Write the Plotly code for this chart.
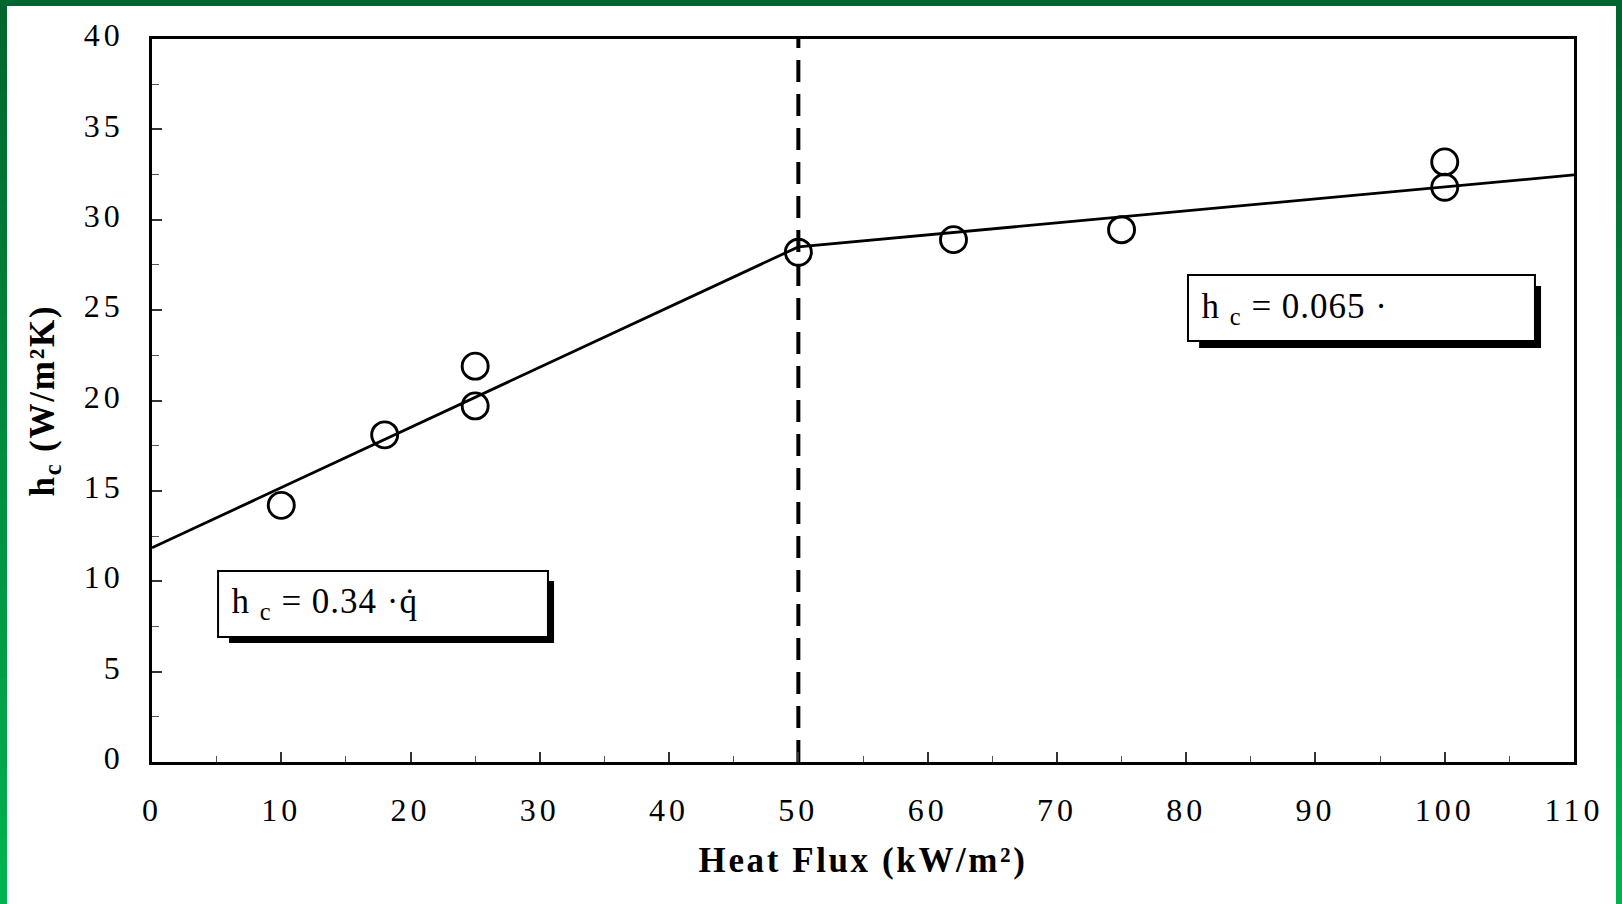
import plotly.graph_objects as go

# ---- data ----
heat_flux = [10, 18, 25, 25, 50, 62, 75, 100, 100]
hc_measured = [14.2, 18.1, 21.9, 19.7, 28.2, 28.9, 29.45, 33.2, 31.8]

fit_x = [0, 50, 110]
fit_y = [11.85, 28.5, 32.48]

transition_x = [50, 50]
transition_y = [0, 40]

x_ticks = [0, 10, 20, 30, 40, 50, 60, 70, 80, 90, 100, 110]
y_ticks = [0, 5, 10, 15, 20, 25, 30, 35, 40]

eq_low = "h <sub>c</sub> = 0.34 \u00b7q\u0307"
eq_high = "h <sub>c</sub> = 0.065 \u00b7"

FONT = "Liberation Serif"

# plot-area pixel geometry (for border shapes)
W, H = 1622, 904
L, R, T, B = 152, 1574, 39, 762


def pxx(p):
    return (p - L) / (R - L)


def pxy(p):
    return (B - p) / (B - T)


fig = go.Figure()

fig.add_trace(go.Scatter(
    x=fit_x, y=fit_y, mode="lines",
    line=dict(color="black", width=2.8),
    showlegend=False, hoverinfo="skip"))

fig.add_trace(go.Scatter(
    x=transition_x, y=transition_y, mode="lines",
    line=dict(color="black", width=4, dash="22px,12px"),
    showlegend=False, hoverinfo="skip"))

fig.add_trace(go.Scatter(
    x=heat_flux, y=hc_measured, mode="markers",
    marker=dict(symbol="circle-open", size=26, color="black",
                line=dict(width=2.9, color="black")),
    showlegend=False))

shapes = []
# equation boxes with drop shadows
for (sx0, sx1, sy0, sy1), (bx0, bx1, by0, by1) in [
    ((5.96, 31.10, 6.58, 10.01), (5.11, 30.63, 6.92, 10.57)),
    ((81.0, 107.45, 22.90, 26.33), (80.14, 106.98, 23.29, 26.94)),
]:
    shapes.append(dict(type="rect", xref="x", yref="y", x0=sx0, x1=sx1,
                       y0=sy0, y1=sy1, fillcolor="black",
                       line=dict(width=0), layer="above"))
    shapes.append(dict(type="rect", xref="x", yref="y", x0=bx0, x1=bx1,
                       y0=by0, y1=by1, fillcolor="white",
                       line=dict(color="black", width=2), layer="above"))


# green gradient frame
def lerp(c1, c2, t):
    return "rgb(%d,%d,%d)" % tuple(round(a + (b - a) * t) for a, b in zip(c1, c2))


top_c = (0, 100, 46)
bot_c = (0, 180, 80)
n = 40
for i in range(n):
    y0p = H * i / n
    y1p = H * (i + 1) / n + 1
    col = lerp(top_c, bot_c, (i + 0.5) / n)
    for x0p, x1p in [(0, 7), (1616, 1622)]:
        shapes.append(dict(type="rect", xref="paper", yref="paper",
                           x0=pxx(x0p), x1=pxx(x1p), y0=pxy(y1p), y1=pxy(y0p),
                           fillcolor=col, line=dict(width=0), layer="above"))
shapes.append(dict(type="rect", xref="paper", yref="paper",
                   x0=pxx(0), x1=pxx(W), y0=pxy(6), y1=pxy(0),
                   fillcolor="rgb(0,102,47)", line=dict(width=0), layer="above"))

annotations = [
    dict(x=6.5, y=8.75, xref="x", yref="y", text=eq_low, showarrow=False,
         xanchor="left", yanchor="middle",
         font=dict(family=FONT, size=35, color="black")),
    dict(x=81.5, y=25.1, xref="x", yref="y", text=eq_high, showarrow=False,
         xanchor="left", yanchor="middle",
         font=dict(family=FONT, size=35, color="black")),
]

axis_common = dict(
    showgrid=False, zeroline=False,
    showline=True, linecolor="black", linewidth=2.6, mirror=True,
    ticks="inside", tickcolor="#333", tickwidth=1.5, ticklen=10,
    tickfont=dict(family=FONT, size=32, color="black"),
)

fig.update_layout(
    width=W, height=H,
    margin=dict(l=L, r=W - R, t=T, b=H - B, pad=0),
    paper_bgcolor="white", plot_bgcolor="white",
    xaxis=dict(range=[0, 110], tickvals=x_ticks,
               ticklabelstandoff=18,
               minor=dict(dtick=5, tick0=0, ticks="inside", ticklen=6,
                          tickcolor="#555", tickwidth=1.3),
               title=dict(text="Heat Flux (kW/m\u00b2)", standoff=21,
                          font=dict(family=FONT, size=35, color="black",
                                    weight="bold")),
               **axis_common),
    yaxis=dict(range=[0, 40], tickvals=y_ticks,
               ticklabelstandoff=19, ticklabelshift=-4,
               minor=dict(dtick=2.5, tick0=0, ticks="inside", ticklen=7,
                          tickcolor="#555", tickwidth=1.3),
               title=dict(text="h<sub>c</sub> (W/m\u00b2K)", standoff=27,
                          font=dict(family=FONT, size=35, color="black",
                                    weight="bold")),
               **axis_common),
    shapes=shapes,
    annotations=annotations,
    showlegend=False,
)

# widen the character spacing the way the reference typesetting does
post = """
var gd = document.getElementsByClassName('plotly-graph-div')[0];
function spread(){
  gd.querySelectorAll('.xtick text, .ytick text').forEach(function(e){e.style.letterSpacing='4px';});
  gd.querySelectorAll('.g-xtitle text').forEach(function(e){e.style.letterSpacing='2.6px';});
  gd.querySelectorAll('.g-ytitle text').forEach(function(e){e.style.letterSpacing='1.8px';});
  gd.querySelectorAll('.annotation-text').forEach(function(e){e.style.letterSpacing='1px';});
}
spread();
gd.on('plotly_afterplot', spread);
"""

fig.write_html("out.html", config=dict(displayModeBar=False), post_script=post)
